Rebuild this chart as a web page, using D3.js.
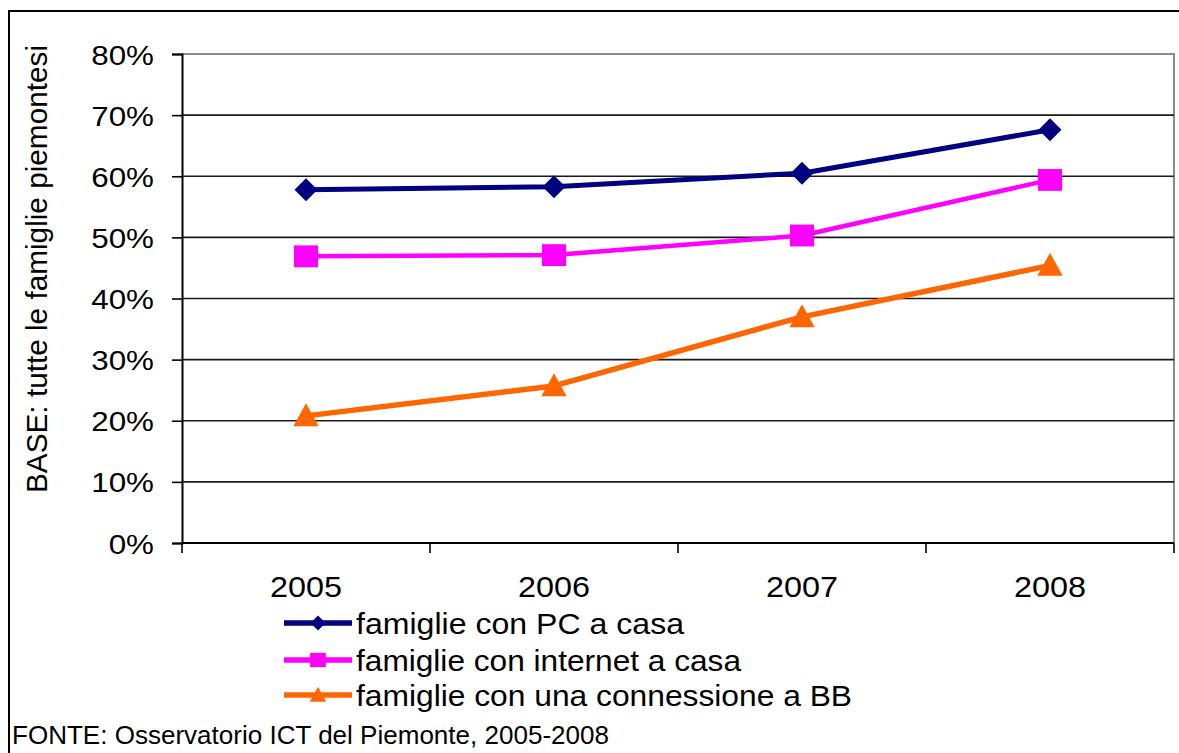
<!DOCTYPE html>
<html>
<head>
<meta charset="utf-8">
<script src="https://cdn.jsdelivr.net/npm/d3@7/dist/d3.min.js"></script>
<style>
  body { margin: 0; background: #fff; }
  text { font-family: "Liberation Sans", Arial, sans-serif; fill: #000; }
</style>
</head>
<body>
<div id="chart"></div>
<script>
// data
const years = ["2005", "2006", "2007", "2008"];
const pcCasa = [57.8, 58.3, 60.5, 67.6];
const internetCasa = [46.9, 47.1, 50.3, 59.4];
const connessioneBB = [20.8, 25.7, 37.0, 45.4];
const seriesNames = ["famiglie con PC a casa", "famiglie con internet a casa", "famiglie con una connessione a BB"];
const yTicks = [0, 10, 20, 30, 40, 50, 60, 70, 80];

const width = 1179, height = 753;
const plot = { left: 182, right: 1174, top: 54, bottom: 543 };

const svg = d3.select("#chart").append("svg")
    .attr("width", width)
    .attr("height", height);

// outer frame (runs off the right and bottom edges)
svg.append("rect")
    .attr("x", 9).attr("y", 11)
    .attr("width", 1200).attr("height", 800)
    .attr("fill", "none").attr("stroke", "#000").attr("stroke-width", 2);

const x = d3.scaleBand().domain(years).range([plot.left, plot.right]).padding(0);
const y = d3.scaleLinear().domain([0, 80]).range([plot.bottom, plot.top]);
const cx = d => x(d) + x.bandwidth() / 2;

// plot area border (grey) on top / right
svg.append("path")
    .attr("d", `M${plot.left},${plot.top}H${plot.right}V${plot.bottom}`)
    .attr("fill", "none").attr("stroke", "#8c8c8c").attr("stroke-width", 2);

// gridlines
svg.append("g")
    .selectAll("line")
    .data(yTicks.filter(t => t > 0 && t < 80))
    .join("line")
    .attr("x1", plot.left).attr("x2", plot.right)
    .attr("y1", d => y(d)).attr("y2", d => y(d))
    .attr("stroke", "#1a1a1a").attr("stroke-width", 1.6);

// y axis
const yAxis = svg.append("g")
    .attr("transform", `translate(${plot.left},0)`)
    .call(d3.axisLeft(y).tickValues(yTicks).tickSize(10).tickFormat(d => d + "%"));
yAxis.select(".domain").attr("stroke", "#000").attr("stroke-width", 2);
yAxis.selectAll(".tick line").attr("stroke", "#000").attr("stroke-width", 1.6);
yAxis.selectAll(".tick text")
    .attr("x", 0)
    .attr("transform", "translate(-28,0) scale(1.12,1)")
    .attr("dy", "0.36em")
    .attr("font-size", 28)
    .style("font-family", "'Liberation Sans', Arial, sans-serif")
    .attr("fill", "#000");

// x axis with ticks between categories
const xAxis = svg.append("g").attr("transform", `translate(0,${plot.bottom})`);
xAxis.append("line")
    .attr("x1", plot.left).attr("x2", plot.right)
    .attr("stroke", "#000").attr("stroke-width", 2);
xAxis.selectAll(".xt")
    .data(years.map(d => x(d)).concat([plot.right]))
    .join("line")
    .attr("class", "xt")
    .attr("x1", d => d).attr("x2", d => d)
    .attr("y1", 0).attr("y2", 10)
    .attr("stroke", "#000").attr("stroke-width", 1.6);
xAxis.selectAll(".xl")
    .data(years)
    .join("text")
    .attr("class", "xl")
    .attr("x", d => cx(d)).attr("y", 54)
    .attr("text-anchor", "middle")
    .attr("font-size", 30)
    .attr("textLength", 72).attr("lengthAdjust", "spacingAndGlyphs")
    .text(d => d);

// y title
svg.append("text")
    .attr("transform", "translate(47,269) rotate(-90)")
    .attr("text-anchor", "middle")
    .attr("font-size", 29)
    .attr("textLength", 448).attr("lengthAdjust", "spacingAndGlyphs")
    .text("BASE: tutte le famiglie piemontesi");

// series
const series = [
  { name: seriesNames[0], values: pcCasa, color: "#000080", width: 5, symbol: "diamond" },
  { name: seriesNames[1], values: internetCasa, color: "#ff00ff", width: 4.5, symbol: "square" },
  { name: seriesNames[2], values: connessioneBB, color: "#ff6600", width: 5.5, symbol: "triangle" }
];

function marker(sel, type, s) {
  if (type === "diamond") {
    sel.attr("d", `M0,${-s}L${s},0L0,${s}L${-s},0Z`);
  } else if (type === "square") {
    sel.attr("d", `M${-s * 1.05},${-s * 0.95}H${s * 1.05}V${s * 0.95}H${-s * 1.05}Z`);
  } else {
    sel.attr("d", `M0,${-s * 1.1}L${s * 1.1},${s * 0.9}H${-s * 1.1}Z`);
  }
}
const markerSize = { diamond: 11.5, square: 11.5, triangle: 11.5 };

const line = d3.line().x((d, i) => cx(years[i])).y(d => y(d));

series.forEach(s => {
  const g = svg.append("g");
  g.append("path")
      .datum(s.values)
      .attr("d", line)
      .attr("fill", "none")
      .attr("stroke", s.color)
      .attr("stroke-width", s.width)
      .attr("stroke-linejoin", "round");
  g.selectAll("path.m")
      .data(s.values)
      .join("path")
      .attr("class", "m")
      .attr("transform", (d, i) => `translate(${cx(years[i])},${y(d)})`)
      .call(marker, s.symbol, markerSize[s.symbol])
      .attr("fill", s.color);
});

// legend
const legendRows = [623, 660, 695];
const legendWidths = [328, 385, 496];
const legend = svg.append("g");
series.forEach((s, i) => {
  const g = legend.append("g").attr("transform", `translate(0,${legendRows[i]})`);
  g.append("line")
      .attr("x1", 284).attr("x2", 352)
      .attr("stroke", s.color).attr("stroke-width", 5.5);
  g.append("path")
      .attr("transform", "translate(318,0)")
      .call(marker, s.symbol, 7.5)
      .attr("fill", s.color);
  g.append("text")
      .attr("x", 356).attr("y", 11)
      .attr("font-size", 30)
      .attr("textLength", legendWidths[i]).attr("lengthAdjust", "spacingAndGlyphs")
      .text(s.name);
});

// source note
svg.append("text")
    .attr("x", 12).attr("y", 744)
    .attr("font-size", 25)
    .attr("fill", "#222")
    .attr("textLength", 597).attr("lengthAdjust", "spacingAndGlyphs")
    .text("FONTE: Osservatorio ICT del Piemonte, 2005-2008");
</script>
</body>
</html>
